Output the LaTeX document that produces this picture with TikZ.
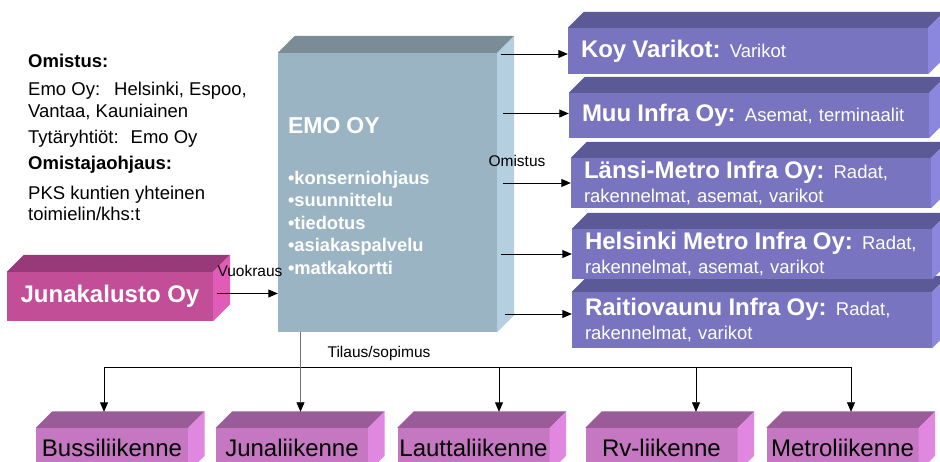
\documentclass[tikz,border=0pt]{standalone}
\usepackage{fontspec}
\setmainfont{Liberation Sans}
\usetikzlibrary{arrows.meta}

\definecolor{emofront}{RGB}{155,180,196}
\definecolor{emotop}{RGB}{122,140,150}
\definecolor{emoside}{RGB}{180,207,224}
\definecolor{infrafront}{RGB}{120,116,192}
\definecolor{infratop}{RGB}{92,90,150}
\definecolor{infraside}{RGB}{139,135,222}
\definecolor{kalfront}{RGB}{194,78,152}
\definecolor{kaltop}{RGB}{152,58,122}
\definecolor{kalside}{RGB}{224,92,184}
\definecolor{liikfront}{RGB}{197,119,194}
\definecolor{liiktop}{RGB}{154,92,153}
\definecolor{liikside}{RGB}{224,136,223}

\newcommand\boxfaces[4]{%
  \fill[#3] (#1.north west) -- ++(#2,-#2) -- ([shift={(#2,-#2)}]#1.north east) -- (#1.north east) -- cycle;
  \fill[#4] (#1.north east) -- ([shift={(#2,-#2)}]#1.north east) -- ([shift={(#2,-#2)}]#1.south east) -- (#1.south east) -- cycle;}
\newcommand\infrahead[1]{{\fontsize{24}{28}\selectfont\bfseries #1}}

\tikzset{
  arr/.style={-{Triangle[length=9.5pt,width=8pt,color=black]}, line width=0.9pt},
  lbl/.style={font=\fontsize{15.5}{18}\selectfont, inner sep=0pt},
  infra/.style={rectangle, fill=infrafront, text=white, align=left, inner xsep=13pt, inner ysep=0pt,
    text width=334pt, minimum width=360pt, minimum height=#1, font=\fontsize{18.5}{24.5}\selectfont},
  liik/.style={rectangle, fill=liikfront, inner sep=0pt, minimum width=152pt, minimum height=44pt,
    text height=17pt, text depth=5pt, font=\fontsize{24}{28}\selectfont},
}

\begin{document}
\begin{tikzpicture}[x=1pt,y=-1pt]
\useasboundingbox (0,0) rectangle (940,462);
\clip (0,0) rectangle (940,462);

\node[anchor=north west, align=left, inner sep=0pt, font=\fontsize{18.5}{21.5}\selectfont] (owner) at (28,54)
  {\textbf{Omistus:}\\[6.5pt]
   Emo Oy:\hspace{14pt}Helsinki, Espoo,\\
   Vantaa, Kauniainen\\[4.5pt]
   Tytäryhtiöt:\hspace{12pt}Emo Oy\\[4.5pt]
   \textbf{Omistajaohjaus:}\\[8.5pt]
   PKS kuntien yhteinen\\
   toimielin/khs:t};

\node[fill=emofront, text=white, align=left, text width=199pt, inner xsep=10pt, inner ysep=0pt,
  minimum width=219pt, minimum height=279pt, font=\fontsize{18.3}{22.5}\selectfont\bfseries] (emo) at (387.5,192.5)
  {\rule{0pt}{23pt}{\fontsize{23}{27}\selectfont\bfseries EMO OY}\\[28.5pt]
   •konserniohjaus\\ •suunnittelu\\ •tiedotus\\ •asiakaspalvelu\\ •matkakortti};
\boxfaces{emo}{17}{emotop}{emoside}

\node[infra=56pt] (rvinfra) at (752,320) {\infrahead{Raitiovaunu Infra Oy:} Radat,\\ rakennelmat, varikot};
\boxfaces{rvinfra}{16}{infratop}{infraside}
\node[infra=50pt] (hkiinfra) at (752,254) {\infrahead{Helsinki Metro Infra Oy:} Radat,\\ rakennelmat, asemat, varikot};
\boxfaces{hkiinfra}{16}{infratop}{infraside}
\node[infra=50pt] (lminfra) at (751,183) {\infrahead{Länsi-Metro Infra Oy:} Radat,\\ rakennelmat, asemat, varikot};
\boxfaces{lminfra}{16}{infratop}{infraside}
\node[infra=45pt] (muuinfra) at (749,115.5) {\infrahead{Muu Infra Oy:} Asemat, terminaalit};
\boxfaces{muuinfra}{16}{infratop}{infraside}
\node[infra=46pt] (varikot) at (748,51) {\infrahead{Koy Varikot:} Varikot};
\boxfaces{varikot}{16}{infratop}{infraside}

\node[fill=kalfront, text=white, inner sep=0pt, minimum width=206pt, minimum height=49pt,
  font=\fontsize{24}{28}\selectfont\bfseries] (kalusto) at (110,296.5) {Junakalusto Oy};
\boxfaces{kalusto}{17}{kaltop}{kalside}

\node[liik] (bussi) at (112,450) {Bussiliikenne};
\boxfaces{bussi}{16.5}{liiktop}{liikside}
\node[liik] (junat) at (292,450) {Junaliikenne};
\boxfaces{junat}{16.5}{liiktop}{liikside}
\node[liik] (lautta) at (473.5,450) {Lauttaliikenne};
\boxfaces{lautta}{16.5}{liiktop}{liikside}
\node[liik] (rv) at (661.5,450) {Rv-liikenne};
\boxfaces{rv}{16.5}{liiktop}{liikside}
\node[liik] (metro) at (842.5,450) {Metroliikenne};
\boxfaces{metro}{16.5}{liiktop}{liikside}

\draw[arr] ([xshift=4pt,yshift=-3pt]emo.east |- varikot.west) -- ([yshift=-3pt]varikot.west);
\draw[arr] ([xshift=6pt,yshift=2pt]emo.east |- muuinfra.west) -- ([yshift=2pt]muuinfra.west);
\draw[arr] ([xshift=6pt]emo.east |- lminfra.west) -- (lminfra.west);
\draw[arr] ([xshift=4pt]emo.east |- hkiinfra.west) -- (hkiinfra.west);
\draw[arr] ([xshift=8pt,yshift=6pt]emo.east |- rvinfra.west) -- ([yshift=6pt]rvinfra.west);
\node[lbl] (omistus) at (517,161) {Omistus};

\draw[arr] ([xshift=4pt,yshift=3pt]kalusto.east) -- ([yshift=3pt]kalusto.east -| emo.west);
\node[lbl] (vuokraus) at (250,271) {Vuokraus};

\coordinate (hbussi) at (104,367);
\coordinate (hlautta) at (499,367);
\coordinate (hrv) at (696,367);
\coordinate (hmetro) at (851,367);
\draw[line width=0.9pt] (hbussi) -- (hmetro);
\draw[arr] (hbussi) -- ([yshift=16pt]hbussi |- bussi.north);
\draw[arr] (hlautta) -- ([yshift=16pt]hlautta |- lautta.north);
\draw[arr, line width=0.7pt] (hrv) -- ([yshift=16pt]hrv |- rv.north);
\draw[arr, line width=0.7pt] (hmetro) -- ([yshift=16pt]hmetro |- metro.north);
\draw[arr, line width=0.7pt, draw=black!55] ([xshift=8.5pt]junat.north |- emo.south) -- ([xshift=8.5pt,yshift=16pt]junat.north);
\node[lbl] (tilaus) at (379,353) {Tilaus/sopimus};
\end{tikzpicture}
\end{document}
